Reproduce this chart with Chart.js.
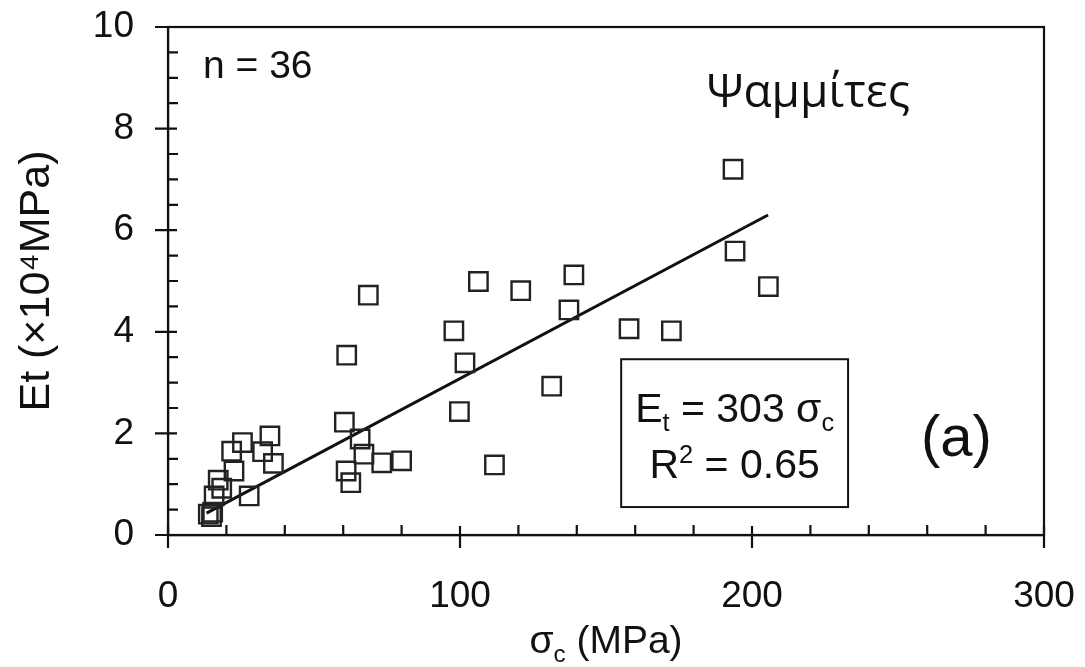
<!DOCTYPE html>
<html>
<head>
<meta charset="utf-8">
<script src="https://cdn.jsdelivr.net/npm/chart.js@4/dist/chart.umd.min.js"></script>
<style>
  body { margin: 0; background: #fff; }
  canvas { display: block; }
</style>
</head>
<body>
<canvas id="etChart" width="1085" height="667"></canvas>
<script>
// σc (MPa) and Et (x10^4 MPa), sandstone samples
const sigmaC = [193.5, 194.2, 205.6, 106.3, 120.8, 139.0, 137.3, 97.9, 157.9, 172.4,
                101.7, 131.4, 99.8, 111.8, 68.6, 61.2, 60.4, 65.8, 67.1, 73.2,
                80.0, 61.0, 62.6, 34.9, 25.5, 21.8, 32.4, 36.1, 22.6, 17.2,
                18.4, 15.8, 27.8, 13.8, 14.9, 15.3];
const etValues = [7.20, 5.59, 4.89, 4.99, 4.81, 5.12, 4.43, 4.02, 4.06, 4.02,
                  3.39, 2.93, 2.43, 1.38, 4.72, 3.54, 2.22, 1.89, 1.59, 1.42,
                  1.46, 1.26, 1.03, 1.95, 1.82, 1.65, 1.64, 1.41, 1.26, 1.08,
                  0.92, 0.77, 0.77, 0.41, 0.36, 0.45];

// fitted line Et = 303 σc, end points
const fitX = [13.2, 205.5];
const fitY = [0.43, 6.30];

const xTicks = [0, 100, 200, 300];
const yTicks = [0, 2, 4, 6, 8, 10];

const ink = '#111';
const font = 'Liberation Sans, Arial, sans-serif';

// draw a line of text with subscript / superscript pieces
function richText(ctx, parts, x, y, size, align) {
    let total = 0;
    parts.forEach(p => {
        ctx.font = (p.sub || p.sup ? size * 0.62 : size) + 'px ' + font;
        p.w = ctx.measureText(p.t).width;
        total += p.w;
    });
    let cx = align === 'center' ? x - total / 2 : x;
    parts.forEach(p => {
        ctx.font = (p.sub || p.sup ? size * 0.62 : size) + 'px ' + font;
        let dy = p.sub ? size * 0.22 : (p.sup ? -size * 0.38 : 0);
        ctx.fillText(p.t, cx, y + dy);
        cx += p.w;
    });
}

const framePlugin = {
    id: 'frame',
    afterDraw(chart) {
        const ctx = chart.ctx;
        const a = chart.chartArea;
        const xs = chart.scales.x, ys = chart.scales.y;
        ctx.save();
        ctx.strokeStyle = ink;
        ctx.lineWidth = 2.2;
        ctx.strokeRect(a.left, a.top, a.right - a.left, a.bottom - a.top);

        // ticks: majors cross the axis, minors point inward
        ctx.beginPath();
        for (let v = 0; v <= 300; v += 20) {
            const px = xs.getPixelForValue(v);
            const major = v % 100 === 0;
            ctx.moveTo(px, a.bottom + (major ? 13 : 0));
            ctx.lineTo(px, a.bottom - (major ? 9 : 10));
        }
        for (let v = 0; v <= 10; v += 0.5) {
            const py = ys.getPixelForValue(v);
            const major = v % 2 === 0;
            ctx.moveTo(a.left - (major ? 13 : 0), py);
            ctx.lineTo(a.left + (major ? 9 : 10), py);
        }
        ctx.stroke();

        // annotations
        ctx.fillStyle = ink;
        ctx.textBaseline = 'alphabetic';
        ctx.textAlign = 'left';
        ctx.font = '39px ' + font;
        ctx.fillText('n = 36', xs.getPixelForValue(12), ys.getPixelForValue(9.0));

        ctx.font = '46px "Open Sans", sans-serif';
        ctx.fillText('Ψαμμίτες', xs.getPixelForValue(184.5), ys.getPixelForValue(8.43));

        ctx.font = '58px ' + font;
        ctx.textAlign = 'center';
        ctx.fillText('(a)', xs.getPixelForValue(270), ys.getPixelForValue(1.55));

        // equation box
        const bx0 = xs.getPixelForValue(155.2), bx1 = xs.getPixelForValue(232.9);
        const by0 = ys.getPixelForValue(3.46), by1 = ys.getPixelForValue(0.55);
        ctx.lineWidth = 2;
        ctx.strokeRect(bx0, by0, bx1 - bx0, by1 - by0);
        ctx.textAlign = 'left';
        const bc = (bx0 + bx1) / 2;
        richText(ctx, [{t: 'E'}, {t: 't', sub: true}, {t: ' = 303 σ'}, {t: 'c', sub: true}],
                 bc, by0 + 63, 41, 'center');
        richText(ctx, [{t: 'R'}, {t: '2', sup: true}, {t: ' = 0.65'}],
                 bc, by0 + 119, 41, 'center');

        // x axis title
        richText(ctx, [{t: 'σ'}, {t: 'c', sub: true}, {t: ' (MPa)'}],
                 (a.left + a.right) / 2, 653, 39, 'center');
        ctx.restore();
    }
};

const ctx = document.getElementById('etChart').getContext('2d');
const etChart = new Chart(ctx, {
    type: 'scatter',
    data: {
        datasets: [{
            label: 'samples',
            data: sigmaC.map((s, i) => ({x: s, y: etValues[i]})),
            pointStyle: 'rect',
            pointRadius: 13,
            pointBorderWidth: 2.4,
            pointBorderColor: '#222',
            pointBackgroundColor: 'rgba(0,0,0,0)',
            showLine: false
        }, {
            label: 'fit',
            data: fitX.map((s, i) => ({x: s, y: fitY[i]})),
            showLine: true,
            borderColor: '#111',
            borderWidth: 3,
            pointRadius: 0
        }]
    },
    options: {
        responsive: false,
        animation: false,
        devicePixelRatio: 1,
        layout: { padding: { top: 27, right: 41, left: 0, bottom: 0 } },
        plugins: { legend: { display: false }, tooltip: { enabled: false } },
        scales: {
            x: {
                type: 'linear',
                min: 0, max: 300,
                afterBuildTicks: s => { s.ticks = xTicks.map(v => ({value: v})); },
                afterFit: s => { s.height = 132; s.paddingLeft = 0; s.paddingRight = 0; },
                grid: { display: false, drawTicks: false },
                border: { display: true, color: ink, width: 2.2 },
                ticks: { color: ink, font: { family: font, size: 37 }, padding: 40, maxRotation: 0 }
            },
            y: {
                type: 'linear',
                min: 0, max: 10,
                afterBuildTicks: s => { s.ticks = yTicks.map(v => ({value: v})); },
                afterFit: s => { s.width = 168; s.paddingTop = 0; s.paddingBottom = 0; },
                grid: { display: false, drawTicks: false },
                border: { display: true, color: ink, width: 2.2 },
                ticks: { color: ink, font: { family: font, size: 37 }, padding: 34 },
                title: {
                    display: true,
                    text: 'Et (×10⁴MPa)',
                    color: ink,
                    font: { family: font, size: 43 },
                    padding: { top: 11, bottom: 0 }
                }
            }
        }
    },
    plugins: [framePlugin]
});
</script>
</body>
</html>
